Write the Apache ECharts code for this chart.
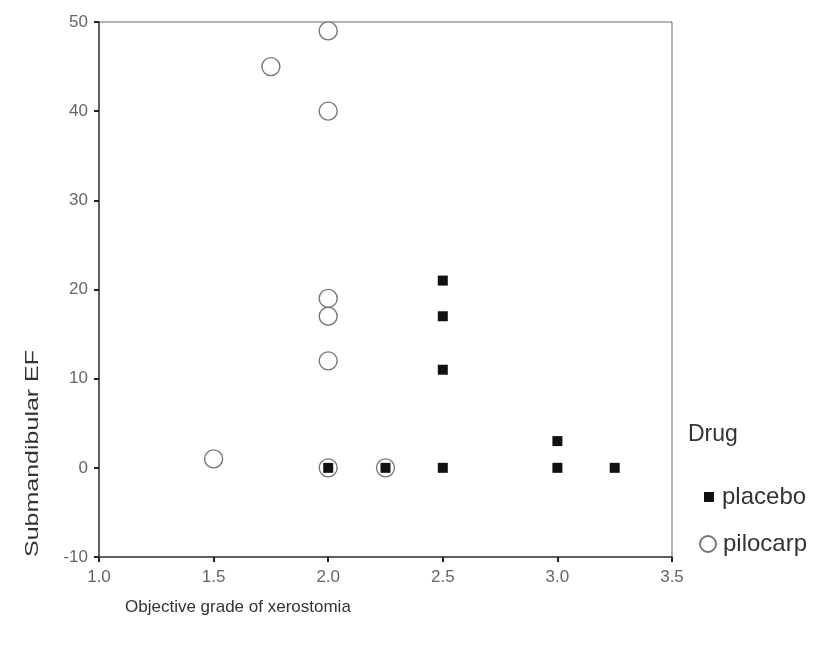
<!DOCTYPE html>
<html><head><meta charset="utf-8">
<script src="https://cdn.jsdelivr.net/npm/echarts@6/dist/echarts.min.js"></script>
<style>html,body{margin:0;padding:0;background:#fff}#c{width:815px;height:652px}</style>
</head><body><div id="c"></div>
<script>
const placeboX = [2.0, 2.25, 2.5, 2.5, 2.5, 2.5, 3.0, 3.0, 3.25];
const placeboY = [0, 0, 21, 17, 11, 0, 3, 0, 0];
const pilocarpX = [1.5, 1.75, 2.0, 2.0, 2.0, 2.0, 2.0, 2.0, 2.25];
const pilocarpY = [1, 45, 49, 40, 19, 17, 12, 0, 0];
const seriesNames = ['placebo', 'pilocarp'];
const xTicks = [1.0, 1.5, 2.0, 2.5, 3.0, 3.5];
const yTicks = [-10, 0, 10, 20, 30, 40, 50];

const pair = (xs, ys) => xs.map((x, i) => [x, ys[i]]);
const font = 'Liberation Sans, Arial, sans-serif';
const chart = echarts.init(document.getElementById('c'));
chart.setOption({
  backgroundColor: '#fff',
  animation: false,
  grid: { left: 99, right: 143, top: 22, bottom: 95, show: true, borderColor: '#666', borderWidth: 1 },
  xAxis: {
    type: 'value', min: xTicks[0], max: xTicks[xTicks.length - 1], interval: 0.5,
    axisLine: { onZero: false, lineStyle: { color: '#444', width: 1.5 } },
    axisTick: { show: true, length: 5, lineStyle: { color: '#222', width: 2 } },
    axisLabel: { color: '#666', fontFamily: font, fontSize: 17, margin: 12, formatter: v => v.toFixed(1) },
    splitLine: { show: false }
  },
  yAxis: {
    type: 'value', min: yTicks[0], max: yTicks[yTicks.length - 1], interval: 10,
    axisLine: { show: true, onZero: false, lineStyle: { color: '#444', width: 1.5 } },
    axisTick: { show: true, length: 5, lineStyle: { color: '#222', width: 2 } },
    axisLabel: { color: '#666', fontFamily: font, fontSize: 17, margin: 11 },
    splitLine: { show: false }
  },
  legend: [
    { data: [seriesNames[0]], orient: 'vertical', left: 699, top: 480, itemWidth: 10, itemHeight: 10, itemGap: 10,
      textStyle: { color: '#333', fontFamily: font, fontSize: 24, padding: [0, 0, 0, 3] } },
    { data: [seriesNames[1]], orient: 'vertical', left: 694, top: 527, itemWidth: 16, itemHeight: 16, itemGap: 10,
      textStyle: { color: '#333', fontFamily: font, fontSize: 24, padding: [0, 0, 0, 2] } }
  ],
  graphic: [
    { type: 'text', left: 688, top: 423, style: { text: 'Drug', fill: '#333', font: '23px ' + font } },
    { type: 'text', x: 125, y: 599, style: { text: 'Objective grade of xerostomia', fill: '#333', font: '17px ' + font } },
    { type: 'text', x: 23, y: 557, rotation: Math.PI / 2, scaleY: 0.75, style: { text: 'Submandibular EF', fill: '#333', font: '25px ' + font, align: 'left', verticalAlign: 'top' } }
  ],
  series: [
    { name: seriesNames[1], type: 'scatter', data: pair(pilocarpX, pilocarpY), symbol: 'circle', symbolSize: 18,
      itemStyle: { color: '#fff', borderColor: '#777', borderWidth: 1.4, opacity: 1 }, z: 2 },
    { name: seriesNames[0], type: 'scatter', data: pair(placeboX, placeboY), symbol: 'rect', symbolSize: 10,
      itemStyle: { color: '#111', opacity: 1 }, z: 3 }
  ]
});
</script></body></html>
